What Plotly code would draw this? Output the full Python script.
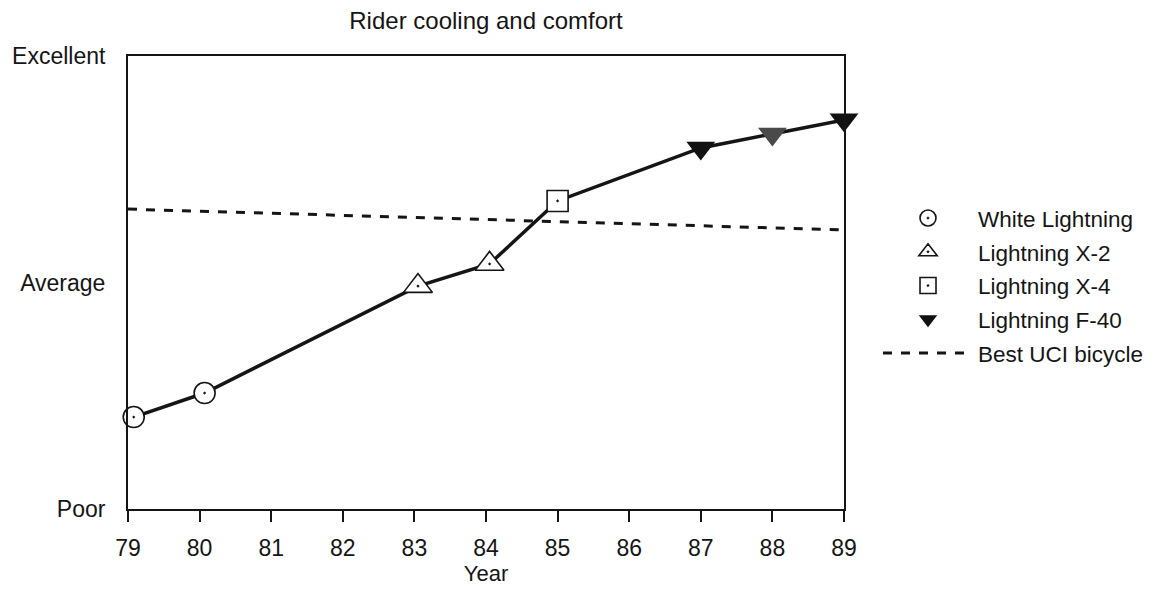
import plotly.graph_objects as go

# ---- data ----
wl_year = [79.08, 80.07]
wl_score = [2.03, 2.56]
x2_year = [83.05, 84.05]
x2_score = [4.92, 5.41]
x4_year = [85.0]
x4_score = [6.80]
f40_year = [87.0, 88.0, 89.0]
f40_score = [7.97, 8.28, 8.59]
uci_year = [79.0, 89.0]
uci_score = [6.62, 6.16]

x_ticks = [79, 80, 81, 82, 83, 84, 85, 86, 87, 88, 89]
y_tickvals = [0, 5, 10]
y_ticklabels = ["Poor", "Average", "Excellent"]

all_year = wl_year + x2_year + x4_year + f40_year
all_score = wl_score + x2_score + x4_score + f40_score

FONT = "Liberation Sans, Arial, Helvetica, sans-serif"
INK = "#151515"

fig = go.Figure()

# connecting solid line
fig.add_trace(go.Scatter(x=all_year, y=all_score, mode="lines",
                         line=dict(color=INK, width=3.5), showlegend=False,
                         hoverinfo="skip", cliponaxis=False))

mk_line = dict(color=INK, width=1.6)
fig.add_trace(go.Scatter(x=wl_year, y=wl_score, mode="markers", name="White Lightning",
                         legendgroup="g1",
                         marker=dict(symbol="circle-dot", size=21, color="white", line=mk_line),
                         cliponaxis=False))
fig.add_trace(go.Scatter(x=x2_year, y=x2_score, mode="markers", name="Lightning X-2",
                         legendgroup="g2",
                         marker=dict(symbol="triangle-up-dot", size=25, color="white", line=mk_line),
                         cliponaxis=False))
fig.add_trace(go.Scatter(x=x4_year, y=x4_score, mode="markers", name="Lightning X-4",
                         legendgroup="g3",
                         marker=dict(symbol="square-dot", size=21, color="white", line=mk_line),
                         cliponaxis=False))
fig.add_trace(go.Scatter(x=f40_year, y=f40_score, mode="markers", name="Lightning F-40",
                         legendgroup="g4",
                         marker=dict(symbol="triangle-down", size=25,
                                     color=["#111111", "#4a4a4a", "#111111"],
                                     line=dict(width=0)),
                         cliponaxis=False))
fig.add_trace(go.Scatter(x=uci_year, y=uci_score, mode="lines", name="Best UCI bicycle",
                         legendgroup="g5",
                         line=dict(color=INK, width=3, dash="dash")))

fig.update_layout(
    width=1155, height=590,
    margin=dict(l=120, r=319, t=48, b=89),
    paper_bgcolor="white", plot_bgcolor="white",
    font=dict(family=FONT, color=INK, size=23),
    title=dict(text="Rider cooling and comfort", x=0.5, xref="paper", xanchor="center",
               y=0.978, yref="container", yanchor="middle", font=dict(size=24)),
    showlegend=True,
    legend=dict(x=1.0475, xanchor="left", y=0.689, yanchor="top",
                font=dict(size=22.5), traceorder="grouped", tracegroupgap=1.5,
                itemwidth=90, bgcolor="rgba(0,0,0,0)"),
    xaxis=dict(range=[79, 89], tickvals=x_ticks, ticktext=[str(t) for t in x_ticks],
               ticks="outside", ticklen=11, tickwidth=1.5, tickcolor=INK,
               showline=True, linecolor=INK, linewidth=2, mirror=True,
               showgrid=False, zeroline=False, automargin=False,
               ticklabelstandoff=6,
               title=dict(text="Year", standoff=5, font=dict(size=22)),
               tickfont=dict(size=23)),
    yaxis=dict(range=[0, 10], tickvals=y_tickvals, ticktext=y_ticklabels,
               ticks="", showline=True, linecolor=INK, linewidth=2, mirror=True,
               showgrid=False, zeroline=False, ticklabelstandoff=16, automargin=False,
               tickfont=dict(size=23)),
)

fig.write_html("out.html")
